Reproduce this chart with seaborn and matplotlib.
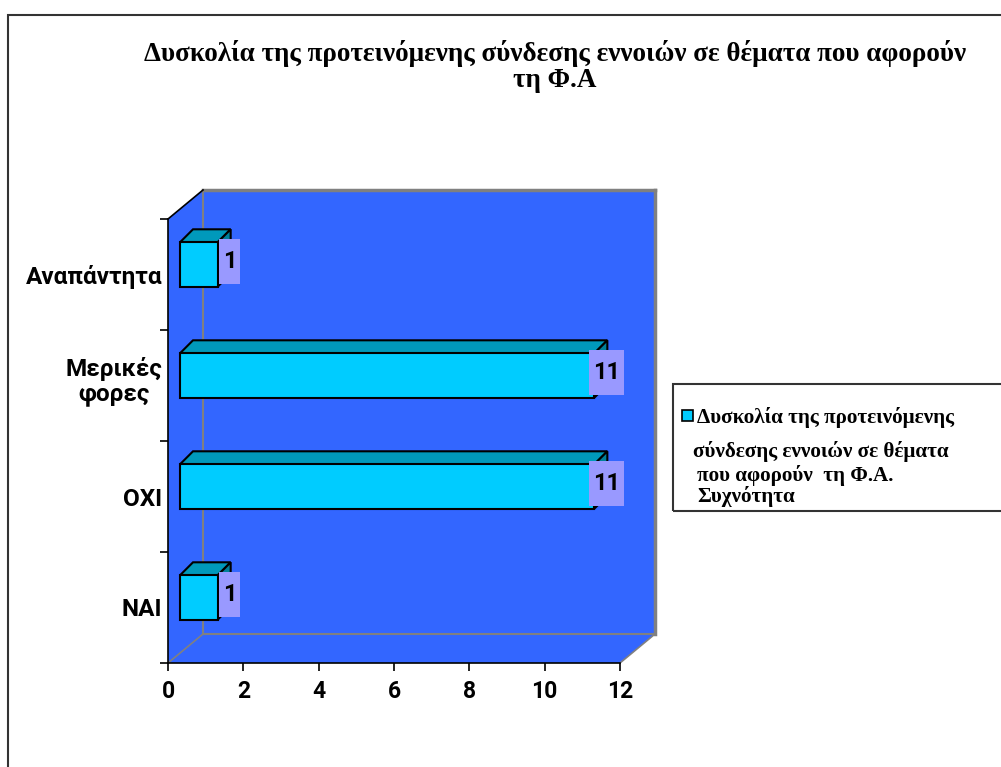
import matplotlib
matplotlib.use("Agg")
import matplotlib.pyplot as plt
import matplotlib.transforms as mtrans
from matplotlib.patches import Polygon, Rectangle
import seaborn as sns
import pandas as pd

# ---------------- data ----------------
categories = ["Αναπάντητα", "Μερικές\nφορες", "ΟΧΙ", "ΝΑΙ"]
values = [1, 11, 11, 1]
x_ticks = [0, 2, 4, 6, 8, 10, 12]
title_lines = ["Δυσκολία της προτεινόμενης σύνδεσης εννοιών σε θέματα που αφορούν",
               "τη Φ.Α"]
legend_lines = ["Δυσκολία της προτεινόμενης",
                "σύνδεσης εννοιών σε θέματα",
                "που αφορούν  τη Φ.Α.",
                "Συχνότητα"]

# ---------------- style ----------------
SANS = ["Roboto", "Liberation Sans", "DejaVu Sans"]
SERIF = "Liberation Serif"
WALL = "#3366FF"
FRONT = "#00CCFF"
TOP = "#0099BB"
SIDE = "#007F99"
LABEL_BOX = "#9999FF"
GREY = "#808080"

W, H = 1001, 767
fig = plt.figure(figsize=(W / 100, H / 100), dpi=100)
fig.patch.set_facecolor("white")

ax_l, ax_r, ax_t, ax_b = 168, 620, 219, 663
ax = fig.add_axes([ax_l / W, 1 - ax_b / H, (ax_r - ax_l) / W, (ax_b - ax_t) / H])

df = pd.DataFrame({"cat": categories, "val": values})
sns.barplot(data=df, x="val", y="cat", orient="y", color=FRONT, saturation=1,
            width=0.40, edgecolor="black", linewidth=1.5, ax=ax, zorder=4)

ax.set_xlim(0, 12)
ax.set_ylim(3.5, -0.5)
ax.patch.set_visible(False)
ax.set_xlabel("")
ax.set_ylabel("")

px_x = (ax_r - ax_l) / 12.0
px_y = (ax_b - ax_t) / 4.0


def dd(dx_px, dy_px):
    """pixel offset (right, up) -> data offset"""
    return dx_px / px_x, -dy_px / px_y


def off(dx_px, dy_px):
    return ax.transData + mtrans.ScaledTranslation(dx_px / 100, dy_px / 100, fig.dpi_scale_trans)


# ---------------- walls ----------------
wx, wy = dd(35, 29)
y_top, y_bot = -0.5, 3.5
wall = Polygon([(0, y_top), (wx, y_top + wy), (12 + wx, y_top + wy), (12 + wx, y_bot + wy),
                (12, y_bot), (0, y_bot)], closed=True, fc=WALL, ec="none",
               clip_on=False, zorder=0)
ax.add_patch(wall)
ax.plot([wx, wx], [y_top + wy, y_bot + wy], color=GREY, lw=1.5, clip_on=False, zorder=1)
ax.plot([wx, 12 + wx], [y_bot + wy, y_bot + wy], color=GREY, lw=1.5, clip_on=False, zorder=1)
ax.plot([12 + wx, 12 + wx], [y_top + wy, y_bot + wy], color=GREY, lw=2.5, clip_on=False, zorder=1)
ax.plot([wx, 12 + wx], [y_top + wy, y_top + wy], color=GREY, lw=2.5, clip_on=False, zorder=1)
ax.plot([0, wx], [y_bot, y_bot + wy], color=GREY, lw=1.2, clip_on=False, zorder=1)
ax.plot([12, 12 + wx], [y_bot, y_bot + wy], color=GREY, lw=1.2, clip_on=False, zorder=1)
ax.plot([0, wx], [y_top, y_top + wy], color="black", lw=1.2, clip_on=False, zorder=1)

# ---------------- 3D bars ----------------
fx, fy = dd(12, 10)
bx, by = dd(25, 23)
for p in list(ax.patches):
    if not isinstance(p, Rectangle) or p is wall:
        continue
    x0, w, y0, h = p.get_x(), p.get_width(), p.get_y(), p.get_height()
    p.set_transform(off(12, 10))
    p.set_clip_on(False)
    top = Polygon([(x0 + fx, y0 + fy), (x0 + w + fx, y0 + fy),
                   (x0 + w + bx, y0 + by), (x0 + bx, y0 + by)], closed=True,
                  fc=TOP, ec="black", lw=1.5, clip_on=False, zorder=3)
    side = Polygon([(x0 + w + fx, y0 + fy), (x0 + w + bx, y0 + by),
                    (x0 + w + bx, y0 + h + by), (x0 + w + fx, y0 + h + fy)], closed=True,
                   fc=SIDE, ec="black", lw=1.5, clip_on=False, zorder=3)
    ax.add_patch(top)
    ax.add_patch(side)

# ---------------- axes / ticks ----------------
for s in ["top", "right"]:
    ax.spines[s].set_visible(False)
for s in ["left", "bottom"]:
    ax.spines[s].set_color("black")
    ax.spines[s].set_linewidth(1.2)
    ax.spines[s].set_zorder(2)

ax.set_xticks(x_ticks)
ax.set_xticklabels([str(t) for t in x_ticks])
ax.tick_params(axis="x", direction="out", length=6, width=1.2, color="black", pad=6)
for lab in ax.get_xticklabels():
    lab.set_fontfamily(SANS)
    lab.set_fontweight("bold")
    lab.set_fontsize(16.5)

ax.set_yticks([-0.5, 0.5, 1.5, 2.5, 3.5])
ax.set_yticklabels([])
ax.set_yticks(range(len(categories)), minor=True)
ax.set_yticklabels(categories, minor=True)
ax.tick_params(axis="y", which="major", direction="out", length=6, width=1.2, color="black")
ax.tick_params(axis="y", which="minor", length=0, pad=4)
for k, lab in enumerate(ax.get_yticklabels(minor=True)):
    lab.set_fontfamily(SANS)
    lab.set_fontweight("bold")
    lab.set_fontsize(17.5)
    lab.set_multialignment("center")
    lab.set_linespacing(1.05)
    if "\n" in categories[k]:
        lab.set_transform(lab.get_transform() +
                          mtrans.ScaledTranslation(0, 8 / 100, fig.dpi_scale_trans))

# ---------------- data labels ----------------
texts = []
for i, v in enumerate(values):
    t = ax.text(v, i, str(v), transform=off(24, 13), ha="center", va="center",
                fontsize=17, fontweight="bold", family=SANS, color="black",
                zorder=6, clip_on=False)
    texts.append((t, v, i))

fig.canvas.draw()
for t, v, i in texts:
    bb = t.get_window_extent()
    cx, cy = off(24, 13).transform((v, i))
    bw = bb.width + 8
    r = Rectangle((cx - bw / 2, cy - 22.5), bw, 45, transform=mtrans.IdentityTransform(),
                  fc=LABEL_BOX, ec="none", zorder=5, clip_on=False)
    ax.add_patch(r)

# ---------------- title ----------------
for line, base in zip(title_lines, [61, 87]):
    fig.text(555 / W, 1 - base / H, line, ha="center", va="baseline", fontsize=19.5,
             fontweight="bold", family=SERIF)

# ---------------- legend ----------------
fig.add_artist(Rectangle((673 / W, 1 - 511 / H), 340 / W, 127 / H, transform=fig.transFigure,
                         fill=False, ec="#333333", lw=1.5))
fig.add_artist(Rectangle((682 / W, 1 - 421 / H), 11 / W, 11 / H, transform=fig.transFigure,
                         fc=FRONT, ec="black", lw=1.2))
leg_pos = [(697, 423), (693, 457), (697, 481), (697, 502)]
for (lx, ly), line in zip(leg_pos, legend_lines):
    fig.text(lx / W, 1 - ly / H, line, ha="left", va="baseline", fontsize=15.2,
             fontweight="bold", family=SERIF)

# ---------------- outer frame ----------------
fig.add_artist(Rectangle((8 / W, -0.05), 1.05, 1.05 - 15 / H, transform=fig.transFigure,
                         fill=False, ec="#333333", lw=1.5))

fig.savefig("out.png", dpi=100)
